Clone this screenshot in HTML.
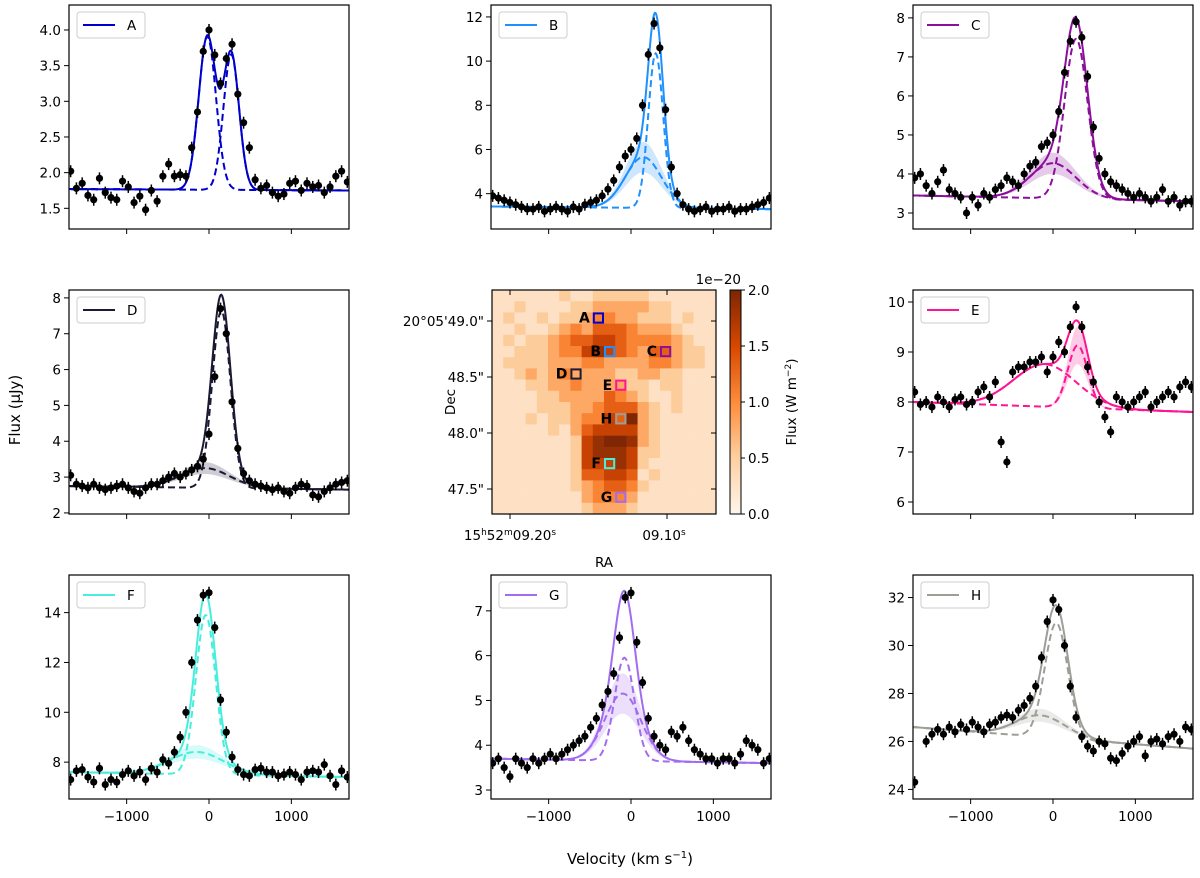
<!DOCTYPE html>
<html><head><meta charset="utf-8"><style>
body{margin:0;background:#fff;}
svg{display:block;font-family:"DejaVu Sans","Liberation Sans",sans-serif;}
</style></head><body>
<svg id="fig" width="1200" height="878" viewBox="0 0 1200 878" xmlns="http://www.w3.org/2000/svg"></svg>
<script>
const vel=[-1680,-1610,-1540,-1470,-1400,-1330,-1260,-1190,-1120,-1050,-980,-910,-840,-770,-700,-630,-560,-490,-420,-350,-280,-210,-140,-70,0,70,140,210,280,350,420,490,560,630,700,770,840,910,980,1050,1120,1190,1260,1330,1400,1470,1540,1610,1680];
const fluxA=[2.02,1.78,1.85,1.68,1.62,1.92,1.72,1.65,1.62,1.88,1.8,1.58,1.67,1.48,1.75,1.6,1.95,2.12,1.95,1.97,1.95,2.35,2.85,3.7,4.0,3.65,3.25,3.6,3.8,3.1,2.7,2.35,1.9,1.78,1.82,1.72,1.67,1.7,1.85,1.88,1.75,1.85,1.8,1.82,1.72,1.8,1.95,2.02,1.87];
const fluxB=[3.9,3.8,3.7,3.6,3.5,3.4,3.3,3.3,3.4,3.2,3.3,3.4,3.3,3.2,3.4,3.3,3.5,3.6,3.7,3.9,4.2,4.6,5.2,5.7,6.0,6.5,8.0,10.3,11.7,10.6,7.8,5.2,4.0,3.5,3.3,3.2,3.3,3.4,3.2,3.3,3.3,3.4,3.2,3.3,3.3,3.4,3.5,3.6,3.8];
const fluxC=[3.9,4.0,3.7,3.5,3.8,4.1,3.6,3.5,3.4,3.0,3.4,3.2,3.5,3.4,3.6,3.7,3.9,3.8,3.7,4.0,4.2,4.3,4.7,4.8,5.0,5.6,6.6,7.4,7.9,7.5,6.5,5.2,4.4,4.0,3.8,3.7,3.6,3.5,3.4,3.5,3.4,3.3,3.4,3.6,3.3,3.4,3.2,3.3,3.3];
const fluxD=[3.05,2.8,2.75,2.7,2.8,2.7,2.65,2.7,2.75,2.8,2.7,2.6,2.55,2.7,2.8,2.8,2.9,3.0,3.1,3.0,3.1,3.2,3.3,3.5,4.2,5.8,7.7,7.0,5.1,3.8,3.1,2.9,2.8,2.75,2.7,2.65,2.7,2.6,2.55,2.7,2.8,2.75,2.5,2.45,2.6,2.7,2.8,2.85,2.9];
const fluxE=[8.2,7.95,8.0,7.9,8.1,8.0,7.9,8.05,8.1,7.95,8.0,8.2,8.3,8.1,8.4,7.2,6.8,8.6,8.7,8.7,8.8,8.8,8.9,8.6,8.9,9.2,9.0,9.5,9.9,9.5,8.7,8.4,8.0,7.7,7.4,8.1,8.0,7.9,8.0,8.1,8.2,7.9,8.0,8.1,8.2,8.1,8.3,8.4,8.3];
const fluxF=[7.3,7.65,7.7,7.4,7.2,7.75,7.1,7.3,7.2,7.5,7.65,7.45,7.6,7.3,7.75,7.6,8.1,7.95,8.4,9.0,10.0,12.0,13.7,14.7,14.8,13.4,10.5,9.2,8.2,7.7,7.5,7.45,7.7,7.75,7.6,7.6,7.45,7.5,7.6,7.5,7.3,7.6,7.65,7.6,7.9,7.45,7.1,7.65,7.4];
const fluxG=[3.6,3.7,3.5,3.3,3.7,3.6,3.5,3.7,3.6,3.7,3.8,3.7,3.8,3.9,4.0,4.1,4.2,4.4,4.6,4.9,5.2,5.6,6.4,7.3,7.4,6.3,5.4,4.6,4.2,4.0,3.9,4.3,4.2,4.4,4.1,3.9,3.8,3.7,3.7,3.6,3.7,3.7,3.6,3.8,4.1,4.0,3.9,3.6,3.7];
const fluxH=[24.3,23.2,26.0,26.3,26.5,26.3,26.6,26.4,26.7,26.5,26.8,26.6,26.4,26.7,26.8,27.0,27.1,27.0,27.3,27.5,27.8,28.3,29.5,31.0,31.9,31.5,30.0,28.3,27.0,26.2,25.8,25.6,26.0,25.9,25.3,25.2,25.5,25.8,26.0,26.2,25.4,26.0,26.1,25.9,26.2,26.3,26.0,26.6,26.5];
// model parameters: baseline [at -1700, at +1700]; components [center, amplitude, sigma]
const baseA=[1.77,1.75], compsA=[[-20,2.15,105],[270,1.9,95]];
const baseB=[3.42,3.3], compsB=[[300,7.0,90],[150,2.3,220]];
const baseC=[3.45,3.3], compsC=[[280,4.1,140],[0,0.9,280]];
const baseD=[2.75,2.65], compsD=[[150,4.95,110],[-50,0.55,300]];
const baseE=[8.0,7.8], compsE=[[300,1.25,120],[-100,0.85,380]];
const baseF=[7.6,7.4], compsF=[[-40,6.4,120],[-150,0.9,330]];
const baseG=[3.7,3.6], compsG=[[-80,2.3,120],[-100,1.5,220]];
const baseH=[26.6,25.7], compsH=[[40,4.8,140],[-150,0.9,300]];
const yTicksA=[1.5,2.0,2.5,3.0,3.5,4.0], yTicksB=[4,6,8,10,12], yTicksC=[3,4,5,6,7,8], yTicksD=[2,3,4,5,6,7,8];
const yTicksE=[6,7,8,9,10], yTicksF=[8,10,12,14], yTicksG=[3,4,5,6,7], yTicksH=[24,26,28,30,32];
const xTicks=[-1000,0,1000];
// map intensity (digits 0-9 -> 0-2.4 x1e-20, clipped at 2)
const mapRows=["11111121122222111111","11211112233333221111","12112122344332221211","11211234355543332111","12122345566544443211","11222344676543553221","12222333443333443221","11232343333223322111","11122334333322122111","11112233335432112111","11112223345553212111","11121223446583211111","11111213566663211111","11111112678873211111","11111112677762211111","11111112666762111111","11111112556651211111","11111112345542111111","11111111344431111111","11111111233321111111"];
const regionLabels=['A','B','C','D','E','F','G','H'];
const regionCol=[9,10,15,7,11,10,11,11];
const regionRow=[2,5,5,7,8,15,18,11];
const cbTicks=[0.0,0.5,1.0,1.5,2.0];

const NS="http://www.w3.org/2000/svg";
const svg=document.getElementById('fig');
function mk(tag,attrs,parent){const e=document.createElementNS(NS,tag);for(const k in attrs)e.setAttribute(k,attrs[k]);(parent||svg).appendChild(e);return e;}
function fmt(v,dec){let s=v.toFixed(dec);return s.replace('-','\u2212');}

const panels=[
 {n:'A',x:69,y:5,yr:[1.21,4.35],col:'#0000cd',f:fluxA,b:baseA,c:compsA,t:yTicksA,d:1,xl:false,band:-1},
 {n:'B',x:491,y:5,yr:[2.4,12.54],col:'#1e90ff',f:fluxB,b:baseB,c:compsB,t:yTicksB,d:0,xl:false,band:1},
 {n:'C',x:913,y:5,yr:[2.59,8.33],col:'#8b0f9b',f:fluxC,b:baseC,c:compsC,t:yTicksC,d:0,xl:false,band:1},
 {n:'D',x:69,y:290,yr:[1.97,8.22],col:'#1a1a35',f:fluxD,b:baseD,c:compsD,t:yTicksD,d:0,xl:false,band:1},
 {n:'E',x:913,y:290,yr:[5.76,10.24],col:'#ff1493',f:fluxE,b:baseE,c:compsE,t:yTicksE,d:0,xl:false,band:0},
 {n:'F',x:69,y:575,yr:[6.52,15.51],col:'#48eedd',f:fluxF,b:baseF,c:compsF,t:yTicksF,d:0,xl:true,band:1},
 {n:'G',x:491,y:575,yr:[2.8,7.8],col:'#a36cf0',f:fluxG,b:baseG,c:compsG,t:yTicksG,d:0,xl:true,band:1},
 {n:'H',x:913,y:575,yr:[23.6,32.94],col:'#9e9e98',f:fluxH,b:baseH,c:compsH,t:yTicksH,d:0,xl:true,band:1}
];
const W=280,H=224,XMIN=-1700,XMAX=1700;
panels.forEach(p=>{
  const g=mk('g',{});
  
  
  const sx=v=>p.x+(v-XMIN)/(XMAX-XMIN)*W;
  const sy=f=>p.y+H-(f-p.yr[0])/(p.yr[1]-p.yr[0])*H;
  const clip=mk('clipPath',{id:'clip'+p.n},g);mk('rect',{x:p.x,y:p.y,width:W,height:H},clip);
  const inner=mk('g',{'clip-path':'url(#clip'+p.n+')'},g);
  const base=v=>p.b[0]+(v-XMIN)/(XMAX-XMIN)*(p.b[1]-p.b[0]);
  const comp=(c,v)=>c[1]*Math.exp(-((v-c[0])**2)/(2*c[2]*c[2]));
  const grid=[];for(let v=XMIN;v<=XMAX;v+=10)grid.push(v);
  if(p.band>=0){
    const c=p.c[p.band];
    let up=grid.map(v=>sx(v)+','+sy(base(v)+comp(c,v)*1.3));
    let lo=grid.slice().reverse().map(v=>sx(v)+','+sy(base(v)+comp(c,v)*0.7));
    const band=mk('polygon',{points:up.concat(lo).join(' '),fill:p.col,'fill-opacity':0.22,stroke:'none'},inner);
    
    
  }
  p.c.forEach((c,i)=>{
    const pts=grid.map(v=>sx(v)+','+sy(base(v)+comp(c,v))).join(' ');
    const l=mk('polyline',{points:pts,fill:'none',stroke:p.col,'stroke-width':2,'stroke-dasharray':'7,4'},inner);
    
    
  });
  const tot=grid.map(v=>sx(v)+','+sy(base(v)+p.c.reduce((s,c)=>s+comp(c,v),0))).join(' ');
  const tl=mk('polyline',{points:tot,fill:'none',stroke:p.col,'stroke-width':2},inner);
  
  
  p.f.forEach((f,i)=>{
    const x=sx(vel[i]),y=sy(f);
    mk('line',{x1:x,x2:x,y1:y-6,y2:y+6,stroke:'#000','stroke-width':1.5},inner);
    const c=mk('circle',{cx:x,cy:y,r:3.6,fill:'#000'},inner);
    
    
  });
  mk('rect',{x:p.x,y:p.y,width:W,height:H,fill:'none',stroke:'#000','stroke-width':1.2},g);
  xTicks.forEach(t=>{
    const x=sx(t);
    mk('line',{x1:x,x2:x,y1:p.y+H,y2:p.y+H+5,stroke:'#000','stroke-width':1},g);
    if(p.xl){const tx=mk('text',{x:x,y:p.y+H+22,'font-size':13.5,'text-anchor':'middle'},g);tx.textContent=fmt(t,0);
      }
  });
  p.t.forEach(t=>{
    const y=sy(t);
    mk('line',{x1:p.x-5,x2:p.x,y1:y,y2:y,stroke:'#000','stroke-width':1},g);
    const tx=mk('text',{x:p.x-8,y:y+5,'font-size':13.5,'text-anchor':'end'},g);tx.textContent=fmt(t,p.d);
    
  });
  const lg=mk('g',{},g);
  
  
  mk('rect',{x:p.x+8,y:p.y+7,width:68,height:26,rx:3,fill:'#fff',stroke:'#ccc'},lg);
  mk('line',{x1:p.x+14,x2:p.x+46,y1:p.y+20,y2:p.y+20,stroke:p.col,'stroke-width':2},lg);
  const lt=mk('text',{x:p.x+58,y:p.y+25,'font-size':13.5},lg);lt.textContent=p.n;
});

const MX0=492,MY0=290,MW=224,MH=224;
const mg=mk('g',{});


const stops=[[0,[255,245,235]],[0.25,[253,208,162]],[0.5,[253,141,60]],[0.75,[217,72,1]],[1,[127,39,4]]];
function cmap(t){t=Math.max(0,Math.min(1,t));for(let i=1;i<stops.length;i++){if(t<=stops[i][0]){const a=stops[i-1],b=stops[i];const u=(t-a[0])/(b[0]-a[0]);return 'rgb('+a[1].map((c,k)=>Math.round(c+(b[1][k]-c)*u)).join(',')+')';}}return 'rgb(127,39,4)';}
const nr=mapRows.length,nc=mapRows[0].length,cw=MW/nc,ch=MH/nr;
mapRows.forEach((row,r)=>{for(let c=0;c<nc;c++){const val=Math.min(2,(+row[c])*2.4/9);
  const cell=mk('rect',{x:MX0+c*cw,y:MY0+r*ch,width:cw+0.3,height:ch+0.3,fill:cmap(val/2)},mg);
  
  }});
mk('rect',{x:MX0,y:MY0,width:MW,height:MH,fill:'none',stroke:'#000','stroke-width':1.2},mg);
regionLabels.forEach((L,i)=>{
  const p=panels.find(q=>q.n===L);
  const x=MX0+regionCol[i]*cw,y=MY0+regionRow[i]*ch;
  const b=mk('rect',{x:x+1,y:y+1,width:cw-2,height:ch-2,fill:'none',stroke:p.col,'stroke-width':2},mg);
  
  
  const t=mk('text',{x:x-3,y:y+ch-1,'font-size':14,'font-weight':'bold','text-anchor':'end'},mg);t.textContent=L;
});
[[49.0,321],[48.5,377],[48.0,433],[47.5,489]].forEach(([v,y],i)=>{
  mk('line',{x1:MX0-5,x2:MX0,y1:y,y2:y,stroke:'#000'},mg);
  mk('line',{x1:MX0+MW,x2:MX0+MW-5,y1:y,y2:y,stroke:'#000'},mg);
  const t=mk('text',{x:MX0-8,y:y+5,'font-size':13.5,'text-anchor':'end'},mg);
  t.textContent=i===0?"20°05'49.0\"":v.toFixed(1)+'"';
});
[510,667].forEach(x=>{mk('line',{x1:x,x2:x,y1:MY0+MH,y2:MY0+MH+5,stroke:'#000'},mg);mk('line',{x1:x,x2:x,y1:MY0,y2:MY0+5,stroke:'#000'},mg);});
let t1=mk('text',{x:510,y:540,'font-size':13.5,'text-anchor':'middle'},mg);
t1.innerHTML='15<tspan dy="-5" font-size="9">h</tspan><tspan dy="5">52</tspan><tspan dy="-5" font-size="9">m</tspan><tspan dy="5">09.20</tspan><tspan dy="-5" font-size="9">s</tspan>';
let t2=mk('text',{x:664,y:540,'font-size':13.5,'text-anchor':'middle'},mg);
t2.innerHTML='09.10<tspan dy="-5" font-size="9">s</tspan>';
let ra=mk('text',{x:604,y:567,'font-size':13.5,'text-anchor':'middle'},mg);ra.textContent='RA';

let de=mk('text',{x:455,y:402,'font-size':13.5,'text-anchor':'middle',transform:'rotate(-90 455 402)'},mg);de.textContent='Dec';

const cb=mk('g',{});


const CBX=730,CBW=11,CBY=290,CBH=224;
for(let i=0;i<100;i++){mk('rect',{x:CBX,y:CBY+CBH-(i+1)*CBH/100,width:CBW,height:CBH/100+0.5,fill:cmap(i/99)},cb);}
mk('rect',{x:CBX,y:CBY,width:CBW,height:CBH,fill:'none',stroke:'#000'},cb);
cbTicks.forEach(v=>{const y=CBY+CBH-v/2*CBH;mk('line',{x1:CBX+CBW,x2:CBX+CBW+4,y1:y,y2:y,stroke:'#000'},cb);
  const t=mk('text',{x:CBX+CBW+7,y:y+5,'font-size':13.5},cb);t.textContent=v.toFixed(1);});
let ex=mk('text',{x:741,y:284,'font-size':13.5,'text-anchor':'end'},cb);ex.textContent='1e\u221220';
let cl=mk('text',{x:796,y:402,'font-size':13.5,'text-anchor':'middle',transform:'rotate(-90 796 402)'},cb);
cl.innerHTML='Flux (W m<tspan dy="-5" font-size="9">\u22122</tspan><tspan dy="5">)</tspan>';
let yl=mk('text',{x:20,y:410,'font-size':15,'text-anchor':'middle',transform:'rotate(-90 20 410)'});
yl.innerHTML='Flux (\u03bcJy)';

let xl=mk('text',{x:630,y:864,'font-size':15,'text-anchor':'middle'});
xl.innerHTML='Velocity (km s<tspan dy="-6" font-size="10">\u22121</tspan><tspan dy="6">)</tspan>';

</script>
</body></html>
